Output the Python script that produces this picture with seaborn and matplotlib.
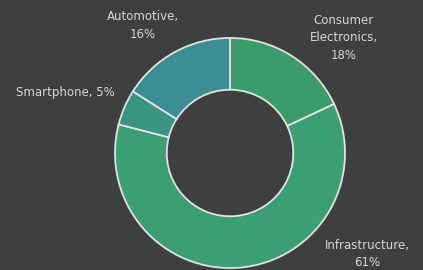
import matplotlib
matplotlib.use("Agg")
import matplotlib.pyplot as plt
import seaborn as sns

sns.set_theme(style="white")
plt.rcParams["font.family"] = ["DejaVu Sans"]

# data
segments = ["Consumer\nElectronics", "Infrastructure", "Smartphone", "Automotive"]
shares = [18, 61, 5, 16]
colors = ["#3a9c6b", "#3c9e75", "#3a9580", "#3a8e94"]

# label placement (data units, wedge radius = 1) and line breaks
label_pos = [(0.99, 1.00), (1.19, -0.88), (-1.43, 0.53), (-0.76, 1.11)]
label_sep = [",\n", ",\n", ", ", ",\n"]

bg = "#3e403f"
fig = plt.figure(figsize=(4.23, 2.70), dpi=100)
fig.patch.set_facecolor(bg)
ax = fig.add_axes([0, 0, 1, 1])
ax.set_facecolor(bg)

ax.pie(shares, colors=colors, startangle=90, counterclock=False,
       radius=1.0,
       wedgeprops=dict(width=0.45, edgecolor="#e2e2e2", linewidth=1.3))

for name, val, (x, y), sep in zip(segments, shares, label_pos, label_sep):
    ax.text(x, y, f"{name}{sep}{val}%", ha="center", va="center",
            fontsize=8.5, color="#d6d6d6", linespacing=1.45)

ax.set_aspect("auto")
ax.set_xlim(-2.0, 1.678)
ax.set_ylim(-1.017, 1.330)
ax.axis("off")

fig.savefig("out.png", dpi=100, facecolor=bg)
